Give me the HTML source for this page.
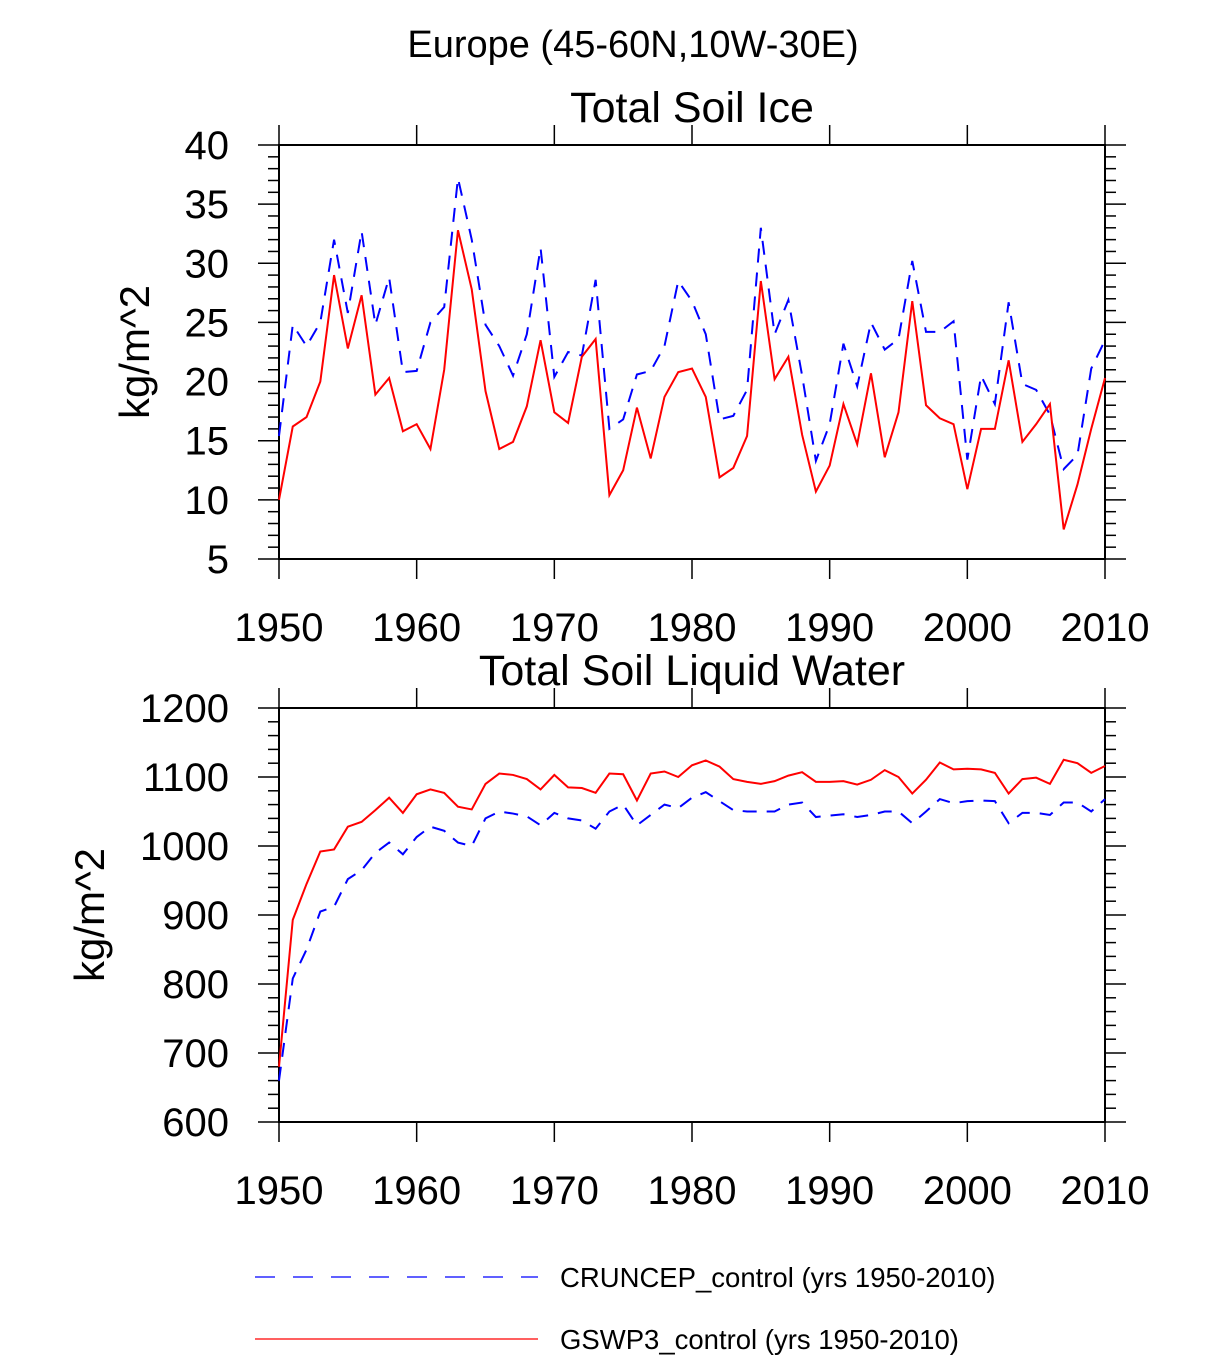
<!DOCTYPE html>
<html><head><meta charset="utf-8"><style>
body{margin:0;background:#fff;}
svg text{font-family:"Liberation Sans",sans-serif;fill:#000;}
</style></head><body>
<svg id="chart" width="1224" height="1355">
<text x="633" y="57" font-size="38" text-anchor="middle">Europe (45-60N,10W-30E)</text>
<g id="p1"></g>
<g id="p2"></g>
<g>
<line x1="255" y1="1277" x2="538" y2="1277" stroke="#0000ff" stroke-width="1.3" stroke-dasharray="20,18"/>
<text x="560" y="1287" font-size="27.5">CRUNCEP_control (yrs 1950-2010)</text>
<line x1="255" y1="1339" x2="538" y2="1339" stroke="#ff0000" stroke-width="1.3"/>
<text x="560" y="1349" font-size="27.5">GSWP3_control (yrs 1950-2010)</text>
</g>
</svg>
<script>
const years=[];for(let y=1950;y<=2010;y++)years.push(y);
const iceRed=[10,16.2,17,20,29,22.8,27.3,18.9,20.3,15.8,16.4,14.3,21,32.8,27.8,19.2,14.3,14.9,17.9,23.5,17.4,16.5,22.1,23.6,10.4,12.5,17.8,13.5,18.7,20.8,21.1,18.7,11.9,12.7,15.4,28.5,20.2,22.1,15.5,10.7,12.9,18.1,14.7,20.7,13.6,17.4,26.8,18,16.9,16.4,10.9,16,16,21.8,14.9,16.4,18.1,7.5,11.3,16,20.3];
const iceBlue=[15.4,24.8,23,25,32,25.8,32.7,24.8,28.8,20.8,20.9,25,26.3,37.2,32,24.8,23,20.5,24,31.3,20.4,22.5,22.2,28.6,16,16.8,20.6,20.9,23,28.5,26.8,24,16.8,17.1,19.3,33,24,26.9,20.5,13.3,16.4,23.2,19.6,25,22.7,23.6,30.2,24.2,24.2,25.1,13.4,20.5,18.1,26.7,19.8,19.3,17.2,12.6,13.8,21.1,23.5];
const liqRed=[680,893,945,992,995,1028,1035,1052,1070,1048,1075,1082,1077,1057,1053,1090,1105,1103,1097,1082,1103,1085,1084,1077,1105,1104,1066,1105,1108,1100,1117,1124,1115,1097,1093,1090,1094,1102,1107,1093,1093,1094,1089,1096,1110,1100,1076,1096,1121,1111,1112,1111,1106,1076,1097,1099,1090,1125,1120,1106,1116];
const liqBlue=[660,808,850,905,912,952,965,990,1005,988,1013,1028,1022,1005,1000,1040,1050,1047,1043,1030,1048,1040,1037,1025,1050,1060,1030,1045,1060,1055,1070,1078,1065,1052,1050,1050,1050,1060,1063,1042,1044,1046,1042,1045,1050,1050,1033,1050,1068,1062,1065,1066,1065,1033,1048,1048,1045,1063,1063,1050,1068];
const xTicks=[1950,1960,1970,1980,1990,2000,2010];
const iceTicks=[5,10,15,20,25,30,35,40];
const liqTicks=[600,700,800,900,1000,1100,1200];
const NS='http://www.w3.org/2000/svg';
function mk(parent,tag,attrs){const e=document.createElementNS(NS,tag);for(const k in attrs)e.setAttribute(k,attrs[k]);parent.appendChild(e);return e;}
function panel(g,title,top,ymin,ymax,yticks,minorStep,ylabX,red,blue,ylabY){
  const L=279,R=1105,T=top,B=top+414;
  const sx=v=>L+(v-1950)/60*(R-L);
  const sy=v=>B-(v-ymin)/(ymax-ymin)*(B-T);
  const t=mk(g,'text',{x:692,y:T-23,'font-size':43,'text-anchor':'middle'});t.textContent=title;
  
  
  const r=mk(g,'rect',{x:L,y:T,width:R-L,height:B-T,fill:'none',stroke:'#000','stroke-width':2});
  
  
  for(let v=ymin;v<=ymax+1e-9;v+=minorStep){
    const y=sy(v);const major=yticks.some(k=>Math.abs(k-v)<1e-6);const len=major?21:11;
    mk(g,'line',{x1:L-len,y1:y,x2:L,y2:y,stroke:'#000','stroke-width':1.5});
    mk(g,'line',{x1:R,y1:y,x2:R+len,y2:y,stroke:'#000','stroke-width':1.5});
  }
  yticks.forEach(v=>{const tx=mk(g,'text',{x:229,y:sy(v)+14,'font-size':40,'text-anchor':'end'});tx.textContent=v;
    
    });
  xTicks.forEach(v=>{const x=sx(v);
    mk(g,'line',{x1:x,y1:B,x2:x,y2:B+20,stroke:'#000','stroke-width':1.5});
    mk(g,'line',{x1:x,y1:T-20,x2:x,y2:T,stroke:'#000','stroke-width':1.5});
    const tx=mk(g,'text',{x:x,y:B+82,'font-size':40,'text-anchor':'middle'});tx.textContent=v;
    
    });
  const yl=mk(g,'text',{x:ylabX,y:ylabY,'font-size':42,'text-anchor':'middle',transform:`rotate(-90 ${ylabX} ${ylabY})`});yl.textContent='kg/m^2';
  
  
  const pb=mk(g,'polyline',{points:blue.map((v,i)=>sx(years[i])+','+sy(v)).join(' '),fill:'none',stroke:'#0000ff','stroke-width':2,'stroke-dasharray':'14,10'});
  
  
  const pr=mk(g,'polyline',{points:red.map((v,i)=>sx(years[i])+','+sy(v)).join(' '),fill:'none',stroke:'#ff0000','stroke-width':2});
  
  
}
panel(document.getElementById('p1'),'Total Soil Ice',145,5,40,iceTicks,1,149,iceRed,iceBlue,352);
panel(document.getElementById('p2'),'Total Soil Liquid Water',708,600,1200,liqTicks,20,104,liqRed,liqBlue,915);
</script>
</body></html>
